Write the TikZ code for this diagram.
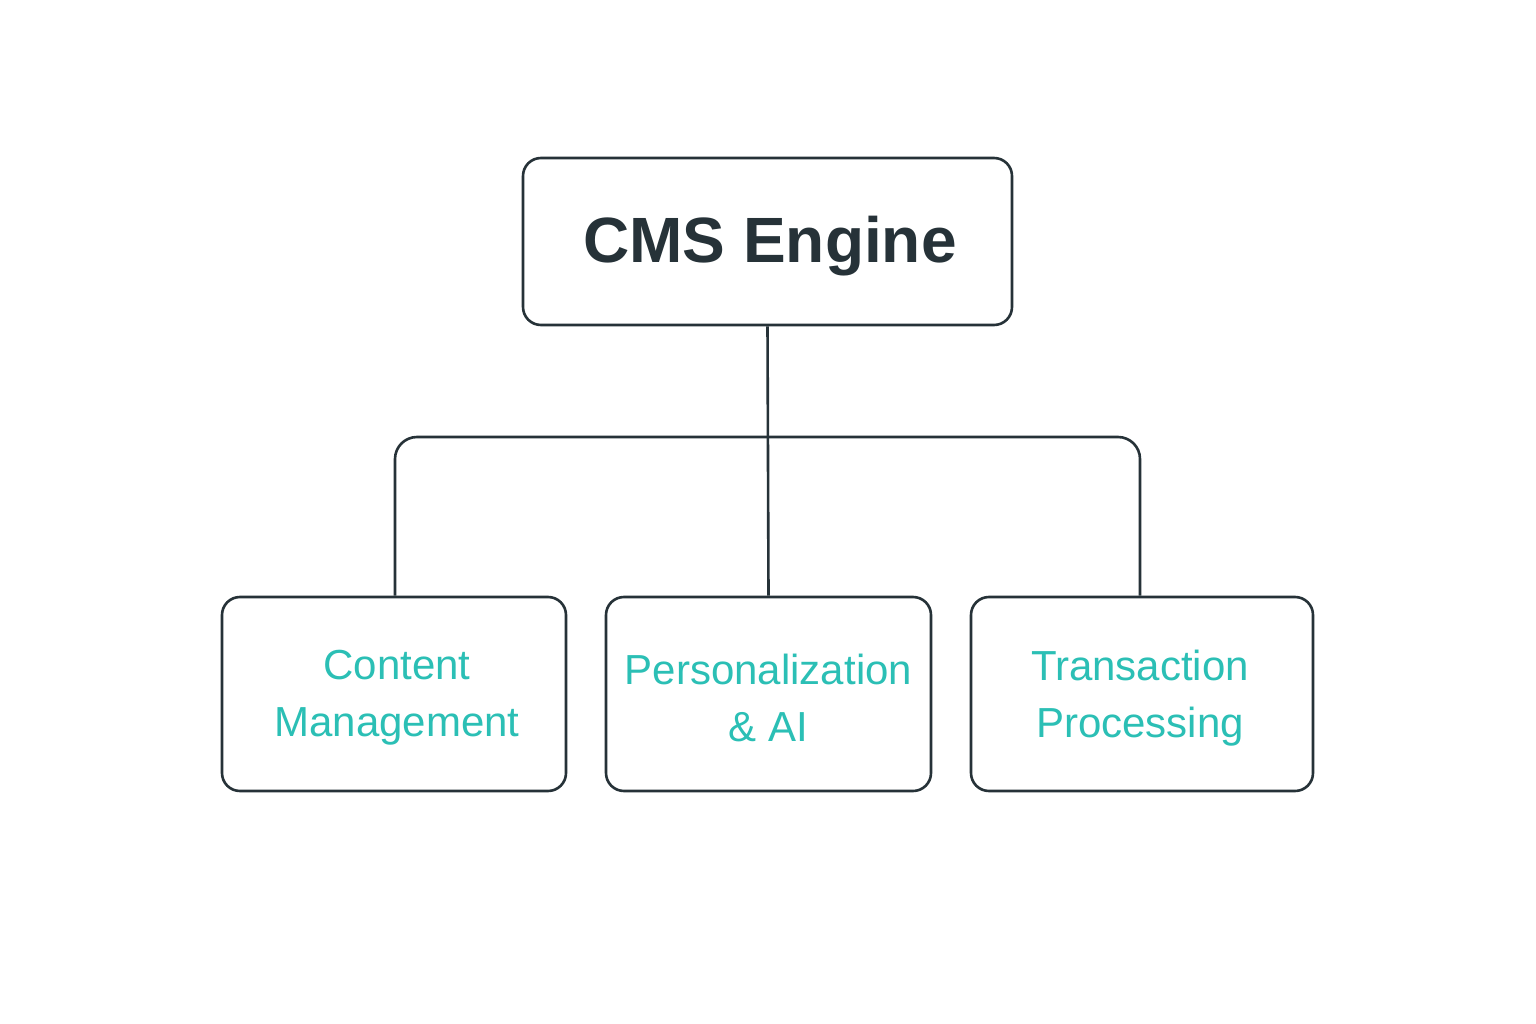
\documentclass[tikz,border=0pt]{standalone}
\usepackage{fontspec}
\setmainfont{Liberation Sans}
\begin{document}
\begin{tikzpicture}[x=1pt,y=-1pt,
  box/.style={draw=dark,line width=2.6pt,rounded corners=18pt,inner sep=0pt},
  sub/.style={box,minimum height=194pt,text=teal2,font=\fontsize{42}{57}\selectfont,align=center},
  conn/.style={draw=dark,line width=2.6pt}]
\definecolor{dark}{HTML}{263238}
\definecolor{teal2}{HTML}{2BBFB5}
\useasboundingbox[fill=white] (0,0) rectangle (1536,1024);
\node[box,minimum width=489pt,minimum height=167pt] (top) at (767.5,241.5) {};
\node[text=dark,font=\fontsize{64}{70}\selectfont\bfseries] (toplabel) at (770,246) {CMS Engine};
\node[sub,minimum width=344pt] (cm) at (394,694) {};
\node[sub,minimum width=325pt] (pa) at (768.5,694) {};
\node[sub,minimum width=342pt] (tp) at (1142,694) {};
\node[text=teal2,font=\fontsize{42}{57}\selectfont,align=center] (cmt) at (397,698) {Content\\Management};
\node[text=teal2,font=\fontsize{42}{57}\selectfont,align=center] (pat) at (768.5,698) {Personalization\\\& AI};
\node[text=teal2,font=\fontsize{42}{57}\selectfont,align=center] (tpt) at (1140,698) {Transaction\\Processing};
\draw[conn] (top.south) -- (pa.north);
\draw[conn,rounded corners=22pt] (cm.north -| 395,0) -- (395,437) -- (1140,437) -- (tp.north -| 1140,0);
\end{tikzpicture}
\end{document}
